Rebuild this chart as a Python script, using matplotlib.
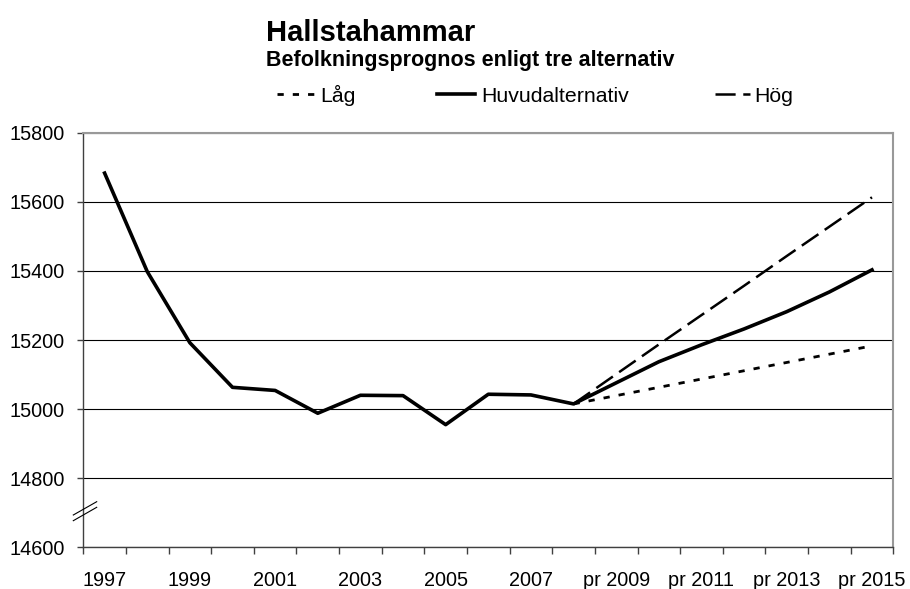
import matplotlib
matplotlib.use('Agg')
import matplotlib.pyplot as plt
import numpy as np
from matplotlib.lines import Line2D

plt.rcParams['font.family'] = ['Liberation Sans', 'DejaVu Sans']
plt.rcParams['lines.scale_dashes'] = False

# ---- data ----
categories = ['1997', '1998', '1999', '2000', '2001', '2002', '2003', '2004',
              '2005', '2006', '2007', '2008', 'pr 2009', 'pr 2010', 'pr 2011',
              'pr 2012', 'pr 2013', 'pr 2014', 'pr 2015']
tick_labels = categories[::2]
huvud = [15683, 15398, 15192, 15063, 15054, 14988, 15040, 15039, 14955,
         15043, 15041, 15015, 15076, 15137, 15186, 15232, 15282, 15339, 15403]
nan = np.nan
lag = [nan] * 11 + [15015, 15039, 15063, 15087, 15111, 15135, 15159, 15183]
hog = [nan] * 11 + [15015, 15101, 15187, 15272, 15357, 15443, 15528, 15613]
series_names = ['Låg', 'Huvudalternativ', 'Hög']
title = 'Hallstahammar'
subtitle = 'Befolkningsprognos enligt tre alternativ'

# ---- styles ----
W, H = 910, 589
def fx(px): return px / W
def fy(py): return 1 - py / H

style_lag = dict(color='black', lw=2.0, dashes=(4.5, 6.5), dash_capstyle='butt')
style_huv = dict(color='black', lw=2.6, solid_joinstyle='round')
style_hog = dict(color='black', lw=1.8, dashes=(14.5, 5.5), dash_capstyle='butt')

fig = plt.figure(figsize=(W / 100, H / 100), dpi=100)
ax = fig.add_axes([fx(83.3), fy(547.3), fx(893.3) - fx(83.3), fy(132.7) - fy(547.3)])

x = np.arange(len(categories))
ax.plot(x, lag, **style_lag, zorder=3)
ax.plot(x, hog, **style_hog, zorder=3)
ax.plot(x, huvud, **style_huv, zorder=4)

ax.set_xlim(-0.5, len(categories) - 0.5)
ax.set_ylim(14600, 15800)
ax.set_yticks(np.arange(14600, 15801, 200))
ax.yaxis.grid(True, color='black', lw=0.8)
ax.set_axisbelow(True)

ax.set_xticks(x[::2])
ax.set_xticklabels(tick_labels)
ax.set_xticks(np.arange(-0.5, len(categories)), minor=True)
ax.tick_params(axis='x', which='major', length=0, pad=17, labelsize=14.3)
ax.tick_params(axis='x', which='minor', length=5, width=1, color='#404040')
ax.tick_params(axis='y', length=4.3, width=1, color='#404040', pad=8.9, labelsize=14.3)

for s in ['left', 'bottom']:
    ax.spines[s].set_color('#404040')
    ax.spines[s].set_linewidth(1)
for s in ['top', 'right']:
    ax.spines[s].set_color('#999999')
    ax.spines[s].set_linewidth(1.5)

# axis break marks
for (y1, y2) in [(515, 501.7), (520.7, 507.3)]:
    fig.add_artist(Line2D([fx(73.3), fx(96.7)], [fy(y1), fy(y2)],
                          transform=fig.transFigure, color='black', lw=0.8))

# titles
fig.text(fx(266), fy(41), title, fontsize=21, fontweight='bold', va='baseline', ha='left')
fig.text(fx(266), fy(66), subtitle, fontsize=15.5, fontweight='bold', va='baseline', ha='left')

# legend
line_y = fy(94)
text_base = fy(102.5)
entries = [((277, 314), 320, series_names[0], style_lag),
           ((437, 475), 481, series_names[1], style_huv),
           ((715, 750), 754, series_names[2], style_hog)]
for (x1, x2), tx, name, st in entries:
    fig.add_artist(Line2D([fx(x1), fx(x2)], [line_y, line_y], transform=fig.transFigure, **st))
    fig.text(fx(tx), text_base, name, fontsize=15.3, va='baseline', ha='left')

fig.savefig('out.png', dpi=100)
